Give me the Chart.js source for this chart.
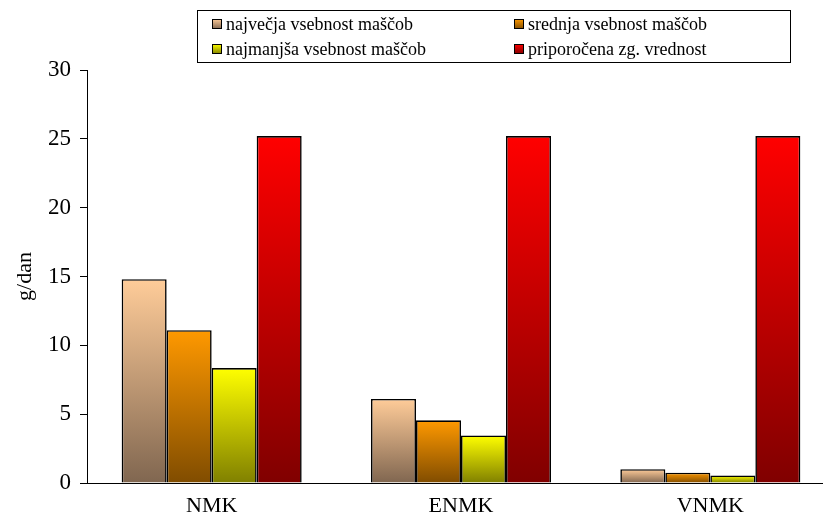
<!DOCTYPE html>
<html>
<head>
<meta charset="utf-8">
<script src="https://cdn.jsdelivr.net/npm/chart.js@4.4.1/dist/chart.umd.min.js"></script>
<style>
  html, body { margin: 0; padding: 0; background: #fff; overflow: hidden; width: 823px; height: 528px; }
  #wrap { position: relative; width: 835px; height: 528px; }
</style>
</head>
<body>
<div id="wrap"><canvas id="c"></canvas></div>
<script>
// Fat content (g/dan) per product group
const categories = ['NMK', 'ENMK', 'VNMK'];
const seriesNames = [
  'največja vsebnost maščob',
  'srednja vsebnost maščob',
  'najmanjša vsebnost maščob',
  'priporočena zg. vrednost'
];
const najvecja = [14.8, 6.1, 1.0];
const srednja = [11.1, 4.55, 0.75];
const najmanjsa = [8.35, 3.45, 0.55];
const priporocena = [25.2, 25.2, 25.2];
const yTicks = [0, 5, 10, 15, 20, 25, 30];

// light (top) → dark (bottom) gradient stops per series
const fills = [
  ['#FFCC99', '#806650'],
  ['#FF9900', '#804C00'],
  ['#FFFF00', '#808000'],
  ['#FF0000', '#800000']
];

const FONT = '"Liberation Serif", "Times New Roman", serif';

function barFill(i) {
  return ctx => {
    const chart = ctx.chart;
    const y = chart.scales && chart.scales.y;
    if (!y || !chart.chartArea || ctx.type !== 'data') return fills[i][0];
    const top = y.getPixelForValue(ctx.raw);
    const bot = y.getPixelForValue(0);
    const g = chart.ctx.createLinearGradient(0, top, 0, bot);
    g.addColorStop(0, fills[i][0]);
    g.addColorStop(1, fills[i][1]);
    return g;
  };
}

// boxed two-column legend above the plot
const boxLegend = {
  id: 'boxLegend',
  afterDraw(chart) {
    const c = chart.ctx;
    const box = { x: 197.5, y: 10.5, w: 593, h: 52 };
    const colX = [212, 514];
    const rowY = [24, 49];
    c.save();
    c.strokeStyle = '#000';
    c.lineWidth = 1;
    c.strokeRect(box.x, box.y, box.w, box.h);
    c.font = '18px "Liberation Serif", serif';
    c.textBaseline = 'middle';
    chart.data.datasets.forEach((ds, i) => {
      const x = colX[i % 2];
      const y = rowY[Math.floor(i / 2)];
      const s = 10;
      const g = c.createLinearGradient(0, y - s / 2, 0, y + s / 2);
      g.addColorStop(0, fills[i][0]);
      g.addColorStop(1, fills[i][1]);
      c.fillStyle = g;
      c.fillRect(x, y - s / 2, s, s);
      c.strokeStyle = '#000';
      c.lineWidth = 1;
      c.strokeRect(x + 0.5, y - s / 2 + 0.5, s - 1, s - 1);
      c.fillStyle = '#000';
      c.fillText(ds.label, x + s + 4, y + 1);
    });
    c.restore();
  }
};

const seriesValues = [najvecja, srednja, najmanjsa, priporocena];

new Chart(document.getElementById('c'), {
  type: 'bar',
  data: {
    labels: categories,
    datasets: seriesValues.map((vals, i) => ({
      label: seriesNames[i],
      data: vals,
      backgroundColor: barFill(i),
      borderColor: '#000',
      borderWidth: 1.6,
      categoryPercentage: 0.722,
      barPercentage: 1.0
    }))
  },
  options: {
    responsive: true,
    maintainAspectRatio: false,
    animation: false,
    devicePixelRatio: 1,
    layout: { padding: { top: 70, right: 0, left: 0, bottom: 0 } },
    plugins: {
      legend: { display: false },
      tooltip: { enabled: false }
    },
    scales: {
      x: {
        grid: { display: false, drawTicks: false },
        border: { display: true, color: '#000', width: 1 },
        ticks: { color: '#000', font: { family: FONT, size: 22 }, padding: 10 },
        afterFit: s => { s.height = 45; }
      },
      y: {
        min: 0,
        max: 30,
        afterBuildTicks: s => { s.ticks = yTicks.map(v => ({ value: v })); },
        grid: { drawOnChartArea: false, drawTicks: true, tickLength: 7, color: '#000' },
        border: { display: true, color: '#000', width: 1 },
        ticks: { color: '#000', font: { family: FONT, size: 23 }, padding: 9 },
        title: {
          display: true,
          text: 'g/dan',
          color: '#000',
          font: { family: FONT, size: 22 },
          padding: { top: 12, bottom: 0 }
        },
        afterFit: s => { s.width = 87; }
      }
    }
  },
  plugins: [boxLegend]
});
</script>
</body>
</html>
